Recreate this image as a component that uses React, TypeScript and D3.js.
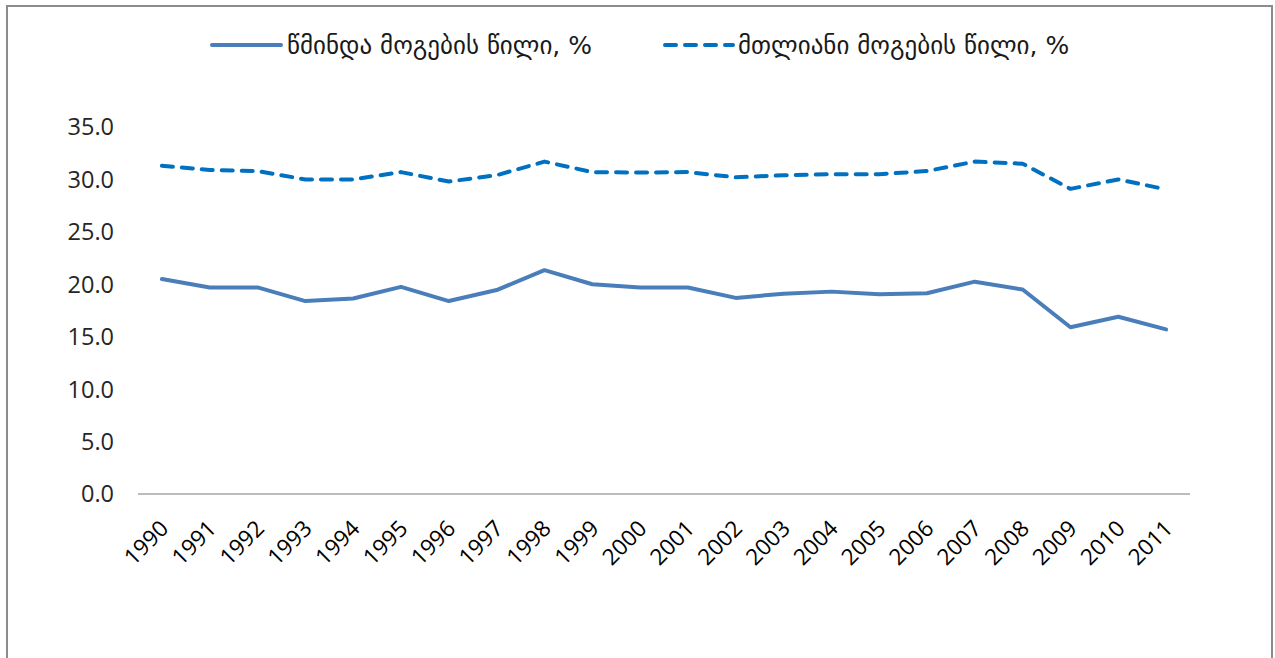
import React from "react";
import * as d3 from "d3";

const years = ["1990","1991","1992","1993","1994","1995","1996","1997","1998","1999","2000","2001","2002","2003","2004","2005","2006","2007","2008","2009","2010","2011"];
const netMargin = [20.5,19.7,19.7,18.4,18.65,19.75,18.4,19.45,21.35,20.0,19.7,19.7,18.7,19.1,19.3,19.05,19.15,20.25,19.5,15.9,16.9,15.7];
const grossMargin = [31.3,30.9,30.8,30.0,30.0,30.7,29.8,30.4,31.7,30.7,30.65,30.7,30.2,30.4,30.5,30.5,30.8,31.7,31.5,29.1,30.0,29.05];
const yTicks = [0,5,10,15,20,25,30,35];
const seriesNames = ["წმინდა მოგების წილი, %", "მთლიანი მოგების წილი, %"];

const W = 1275, H = 658;
const left = 138, right = 1190, top = 127, bottom = 494;

export default function App() {
  const x = d3.scaleBand<string>().domain(years).range([left, right]);
  const y = d3.scaleLinear().domain([0, 35]).range([bottom, top]);
  const cx = (d: string) => (x(d) as number) + x.bandwidth() / 2;
  const line = d3.line<number>().x((_, i) => cx(years[i])).y((v) => y(v));
  const netColor = "#4A7EBB";
  const grossColor = "#0070C0";
  const tickFont = "'Open Sans', sans-serif";
  const legFont = "'DejaVu Sans', sans-serif";
  return (
    <div style={{ position: "absolute", left: 0, top: 0 }}>
      <svg width={W} height={H} style={{ display: "block", background: "#fff" }}>
        <rect x={0} y={0} width={W} height={H} fill="#fff" />
        <path d={`M7,${H} L7,6 L1272,6 L1272,${H}`} fill="none" stroke="#8c8c8c" strokeWidth={2} />
        {/* legend */}
        <line x1={212} x2={281} y1={45} y2={45} stroke={netColor} strokeWidth={4} strokeLinecap="round" />
        <text x={287} y={54} fontFamily={legFont} fontSize={25} fill="#1a1a1a">{seriesNames[0]}</text>
        <line x1={665} x2={733} y1={45} y2={45} stroke={grossColor} strokeWidth={4} strokeLinecap="round" strokeDasharray="11 9" />
        <text x={738} y={54} fontFamily={legFont} fontSize={25} fill="#1a1a1a">{seriesNames[1]}</text>
        {/* y ticks */}
        {yTicks.map((t) => (
          <text key={t} x={114} y={y(t)} dy="0.36em" textAnchor="end" fontFamily={tickFont} fontSize={23.5} fill="#262626">
            {t.toFixed(1)}
          </text>
        ))}
        {/* x axis */}
        <line x1={left} x2={right} y1={bottom} y2={bottom} stroke="#a6a6a6" strokeWidth={1.5} />
        {years.map((yr) => (
          <text key={yr} transform={`translate(${cx(yr) + 8},${bottom + 36}) rotate(-45)`} textAnchor="end" fontFamily={tickFont} fontSize={22.5} fill="#000">
            {yr}
          </text>
        ))}
        <path d={line(grossMargin) as string} fill="none" stroke={grossColor} strokeWidth={4} strokeLinecap="round" strokeLinejoin="round" strokeDasharray="11 9" />
        <path d={line(netMargin) as string} fill="none" stroke={netColor} strokeWidth={4} strokeLinecap="round" strokeLinejoin="round" />
      </svg>
    </div>
  );
}
